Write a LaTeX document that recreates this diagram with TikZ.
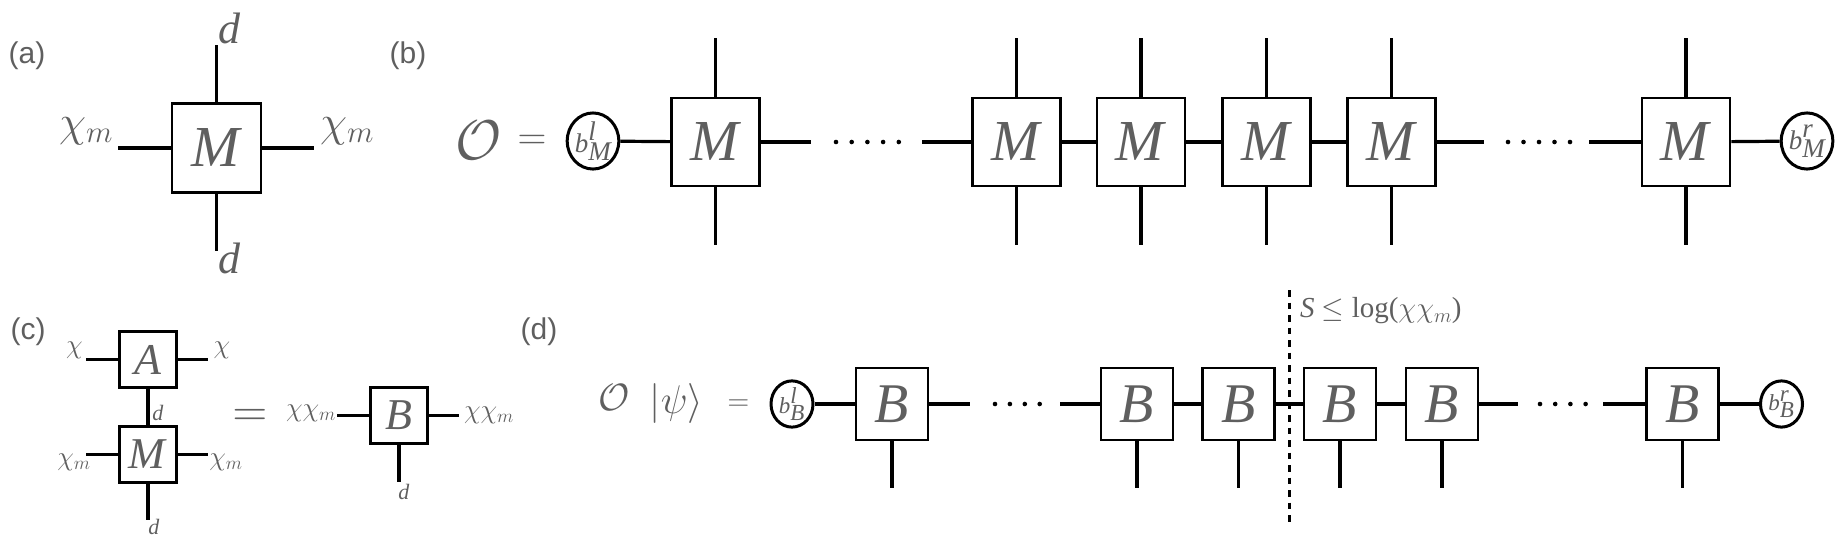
\RequirePackage{fix-cm}
\documentclass[tikz,border=0pt]{standalone}
\usepackage{fontspec}
\setmainfont{Liberation Serif}
\usetikzlibrary{shapes.geometric}
\newfontfamily\labfont{Liberation Sans}
\newcommand{\iv}[1]{\textit{#1}}
\definecolor{txt}{RGB}{95,95,95}
\tikzset{
  every node/.style={text=txt, inner sep=0pt},
  fs/.style={font=\fontsize{#1}{#1}\selectfont},
  tbox/.style={draw=black, line width=2.8pt, fill=white, minimum width=#1, minimum height=#1, inner sep=0pt},
  bnd/.style={draw=black, line width=3pt, fill=white, ellipse, minimum width=#1, minimum height=#1*1.1, inner sep=0pt},
  conn/.style={line width=3.2pt, draw=black},
  dotrow/.style={line width=4.6pt, line cap=round, dash pattern=on 0pt off #1, draw=black},
  cut/.style={line width=3pt, dash pattern=on 6.5pt off 6pt, draw=black},
  panel/.style={font=\labfont\fontsize{30}{30}\selectfont},
}
\begin{document}
\begin{tikzpicture}[x=1pt,y=-1pt]
\useasboundingbox (0,0) rectangle (1839,547);

% ---------------- (a)
\node[panel] (la) at (27,56) {(a)};
\node[tbox=89, fs=58] (aM) at (216.5,148) {\iv{M}};
\coordinate (aT) at (216.5,45);
\coordinate (aB) at (216.5,251);
\coordinate (aL) at (118,148);
\coordinate (aR) at (314,148);
\draw[conn] (aM.north) -- (aT);
\draw[conn] (aM.south) -- (aB);
\draw[conn] (aM.west) -- (aL);
\draw[conn] (aM.east) -- (aR);
\node[fs=44] (adt) at (230,28) {\iv{d}};
\node[fs=44] (adb) at (230,258) {\iv{d}};
\node[fs=44] (axl) at (86,131) {$\chi_m$};
\node[fs=44] (axr) at (347,131) {$\chi_m$};

% ---------------- (b)
\node[panel] (lb) at (408,56) {(b)};
\node[fs=56] (bO) at (479,140) {$\mathcal{O}$};
\node[fs=40] (beq) at (532,142) {$=$};
\node[bnd=51, fs=27] (bl) at (593,141) {$\iv{b}^{\iv{l}}_{\iv{M}}$};
\foreach \n/\x in {1/715.5,2/1016.5,3/1141,4/1266.5,5/1391.5,6/1686}{
  \node[tbox=88, fs=58] (bM\n) at (\x,142) {\iv{M}};
  \coordinate (bM\n t) at (\x,38);
  \coordinate (bM\n b) at (\x,245);
  \draw[conn] (bM\n.north) -- (bM\n t);
  \draw[conn] (bM\n.south) -- (bM\n b);
}
\node[bnd=51, fs=27] (br) at (1807,141) {$\iv{b}^{\iv{r}}_{\iv{M}}$};
\coordinate (b1e) at (811,142);
\coordinate (b2s) at (922,142);
\coordinate (b5e) at (1484,142);
\coordinate (b6s) at (1589,142);
\coordinate (d1a) at (836,142);
\coordinate (d1b) at (900,142);
\coordinate (d2a) at (1508,142);
\coordinate (d2b) at (1571,142);
\draw[conn] (bl) -- (bM1);
\draw[conn] (bM1.east) -- (b1e);
\draw[dotrow=15.7pt] (d1a) -- (d1b);
\draw[conn] (b2s) -- (bM2.west);
\draw[conn] (bM2) -- (bM3);
\draw[conn] (bM3) -- (bM4);
\draw[conn] (bM4) -- (bM5);
\draw[conn] (bM5.east) -- (b5e);
\draw[dotrow=15.5pt] (d2a) -- (d2b);
\draw[conn] (b6s) -- (bM6.west);
\draw[conn] (bM6) -- (br);

% ---------------- (c)
\node[panel] (lc) at (28,332) {(c)};
\node[tbox=56.5, fs=44] (cA) at (148,359.5) {\iv{A}};
\node[tbox=56.5, fs=44] (cM) at (148,454.5) {\iv{M}};
\coordinate (cAL) at (86,359.5);
\coordinate (cAR) at (208,359.5);
\coordinate (cML) at (86,454.5);
\coordinate (cMR) at (208,454.5);
\coordinate (cMB) at (148,520);
\draw[conn] (cA.west) -- (cAL);
\draw[conn] (cA.east) -- (cAR);
\draw[conn] (cA) -- (cM);
\draw[conn] (cM.west) -- (cML);
\draw[conn] (cM.east) -- (cMR);
\draw[conn] (cM.south) -- (cMB);
\node[fs=27] (cxl) at (74.5,350) {$\chi$};
\node[fs=27] (cxr) at (222,350) {$\chi$};
\node[fs=22] (cd1) at (158,413) {\iv{d}};
\node[fs=27] (cxml) at (74,462) {$\chi_m$};
\node[fs=27] (cxmr) at (226,462) {$\chi_m$};
\node[fs=22] (cd2) at (154,527) {\iv{d}};
\node[fs=48] (ceq) at (250,418) {$=$};
\node[tbox=56.5, fs=44] (cB) at (399,415.5) {\iv{B}};
\coordinate (cBL) at (337,415.5);
\coordinate (cBR) at (459,415.5);
\coordinate (cBB) at (399,482);
\draw[conn] (cB.west) -- (cBL);
\draw[conn] (cB.east) -- (cBR);
\draw[conn] (cB.south) -- (cBB);
\node[fs=27] (cxxl) at (311,413) {$\chi\chi_m$};
\node[fs=27] (cxxr) at (489,415) {$\chi\chi_m$};
\node[fs=22] (cd3) at (404,492) {\iv{d}};

% ---------------- (d)
\node[panel] (ld) at (539,332) {(d)};
\node[fs=38] (dO) at (614,398) {$\mathcal{O}$};
\node[fs=40] (dpsi) at (676.5,403) {$|\psi\rangle$};
\node[fs=30] (deq) at (738.5,405) {$=$};
\node[bnd=42, fs=23] (dbl) at (792,404) {$\iv{b}^{\iv{l}}_{\iv{B}}$};
\foreach \n/\x in {1/892,2/1137,3/1238.5,4/1340,5/1442,6/1682.5}{
  \node[tbox=72, fs=56] (dB\n) at (\x,404) {\iv{B}};
  \coordinate (dB\n b) at (\x,488);
  \draw[conn] (dB\n.south) -- (dB\n b);
}
\node[bnd=42, fs=23] (dbr) at (1781.5,404) {$\iv{b}^{\iv{r}}_{\iv{B}}$};
\coordinate (e1e) at (970,404);
\coordinate (e2s) at (1060,404);
\coordinate (e5e) at (1518,404);
\coordinate (e6s) at (1603,404);
\coordinate (f1a) at (995,404);
\coordinate (f1b) at (1040,404);
\coordinate (f2a) at (1540,404);
\coordinate (f2b) at (1586,404);
\draw[conn] (dbl) -- (dB1);
\draw[conn] (dB1.east) -- (e1e);
\draw[dotrow=14.9pt] (f1a) -- (f1b);
\draw[conn] (e2s) -- (dB2.west);
\draw[conn] (dB2) -- (dB3);
\draw[conn] (dB3) -- (dB4);
\draw[conn] (dB4) -- (dB5);
\draw[conn] (dB5.east) -- (e5e);
\draw[dotrow=15.2pt] (f2a) -- (f2b);
\draw[conn] (e6s) -- (dB6.west);
\draw[conn] (dB6) -- (dbr);
\coordinate (cutT) at (1289.5,290);
\coordinate (cutB) at (1289.5,522);
\draw[cut] (cutT) -- (cutB);
\node[fs=29, anchor=west] (ent) at (1300,311) {\iv{S} $\leq$ log($\chi\chi_m$)};
\end{tikzpicture}
\end{document}
